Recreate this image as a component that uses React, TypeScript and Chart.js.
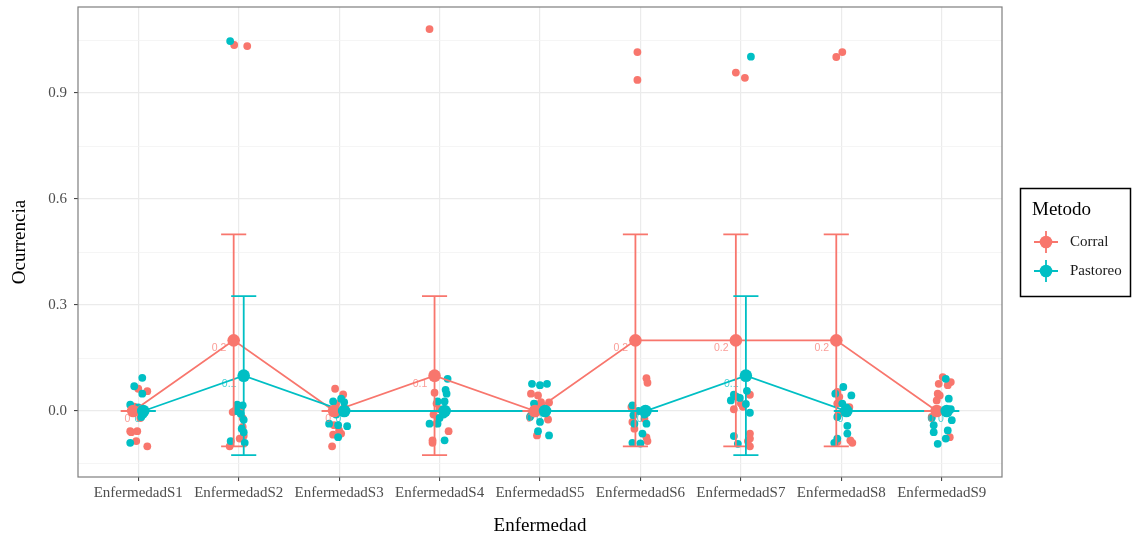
import React, { useEffect, useRef } from "react";
import { Chart, registerables } from "chart.js";

Chart.register(...registerables);

// ---------------- data ----------------
const categories = [
  "EnfermedadS1", "EnfermedadS2", "EnfermedadS3", "EnfermedadS4", "EnfermedadS5",
  "EnfermedadS6", "EnfermedadS7", "EnfermedadS8", "EnfermedadS9",
];
const groups = ["Corral", "Pastoreo"];
const groupColors = ["#F8766D", "#00BFC4"];
const groupLabelColors = ["rgba(248,118,109,0.72)", "rgba(0,191,196,0.72)"];

const corralMean = [0, 0.2, 0, 0.1, 0, 0.2, 0.2, 0.2, 0];
const corralLow = [0, -0.1, 0, -0.125, 0, -0.1, -0.1, -0.1, 0];
const corralHigh = [0, 0.5, 0, 0.325, 0, 0.5, 0.5, 0.5, 0];

const pastoreoMean = [0, 0.1, 0, 0, 0, 0, 0.1, 0, 0];
const pastoreoLow = [0, -0.125, 0, 0, 0, 0, -0.125, 0, 0];
const pastoreoHigh = [0, 0.325, 0, 0, 0, 0, 0.325, 0, 0];

// jittered observations: [category (1-based), horizontal jitter, value]
const corralPoints: [number, number, number][] = [
  [1, 0.0, 0.063], [1, 0.09, 0.056], [1, -0.08, -0.057], [1, -0.01, -0.057], [1, -0.02, -0.085],
  [1, 0.09, -0.1], [1, -0.06, -0.003], [1, -0.04, 0.012], [1, -0.07, -0.06], [1, 0.02, -0.02],
  [2, -0.06, -0.003], [2, 0.02, 0.007], [2, 0.04, -0.045], [2, 0.01, -0.078], [2, -0.09, -0.1],
  [2, 0.04, -0.02], [2, -0.04, 0.0], [2, 0.05, -0.07], [2, -0.045, 1.036], [2, 0.085, 1.033],
  [3, -0.04, 0.063], [3, 0.04, 0.047], [3, -0.06, -0.005], [3, -0.05, -0.04], [3, -0.06, -0.067],
  [3, 0.02, -0.064], [3, -0.07, -0.1], [3, 0.0, -0.055], [3, -0.03, 0.02], [3, 0.05, 0.01],
  [4, -0.05, 0.052], [4, -0.03, 0.021], [4, -0.06, -0.01], [4, 0.09, -0.057], [4, -0.07, -0.083],
  [4, -0.07, -0.09], [4, -0.03, -0.035], [4, 0.0, 0.005], [4, -0.02, -0.02], [4, -0.1, 1.081],
  [5, -0.09, 0.049], [5, -0.02, 0.044], [5, 0.01, 0.025], [5, 0.09, 0.024], [5, -0.09, -0.012],
  [5, 0.08, -0.024], [5, -0.03, -0.069], [5, -0.05, 0.02], [5, 0.0, 0.01], [5, -0.06, -0.004],
  [6, 0.06, 0.093], [6, 0.07, 0.08], [6, -0.09, 0.011], [6, -0.08, -0.031], [6, 0.04, -0.022],
  [6, 0.07, -0.085], [6, 0.06, -0.075], [6, -0.06, -0.05], [6, -0.03, 1.016], [6, -0.03, 0.937],
  [7, 0.09, 0.046], [7, 0.0, 0.021], [7, -0.07, 0.005], [7, 0.02, 0.012], [7, 0.09, -0.064],
  [7, 0.09, -0.078], [7, 0.09, -0.1], [7, 0.07, -0.085], [7, -0.05, 0.958], [7, 0.04, 0.943],
  [8, -0.04, 0.054], [8, -0.02, 0.04], [8, -0.04, 0.021], [8, 0.08, 0.011], [8, -0.04, -0.088],
  [8, 0.09, -0.083], [8, 0.11, -0.09], [8, -0.03, -0.01], [8, -0.05, 1.002], [8, 0.01, 1.016],
  [9, 0.01, 0.096], [9, -0.03, 0.077], [9, 0.09, 0.082], [9, 0.06, 0.073], [9, -0.04, 0.049],
  [9, -0.02, 0.044], [9, -0.06, 0.002], [9, -0.1, -0.017], [9, 0.08, -0.074], [9, -0.05, 0.03],
];

const pastoreoPoints: [number, number, number][] = [
  [1, 0.04, 0.094], [1, -0.04, 0.07], [1, 0.04, 0.049], [1, -0.08, 0.018], [1, 0.03, -0.017],
  [1, -0.08, -0.09], [1, 0.02, 0.0], [1, -0.05, -0.005], [1, 0.05, -0.01], [1, 0.0, 0.01],
  [2, -0.015, 0.018], [2, 0.04, 0.016], [2, 0.02, -0.008], [2, 0.05, -0.025], [2, -0.08, -0.085],
  [2, 0.06, -0.09], [2, 0.03, -0.05], [2, 0.05, -0.06], [2, -0.02, 0.0], [2, -0.085, 1.047],
  [3, -0.06, 0.027], [3, 0.02, 0.035], [3, 0.05, 0.025], [3, -0.01, -0.04], [3, 0.08, -0.043],
  [3, -0.01, -0.074], [3, -0.1, -0.036], [3, 0.04, 0.0], [3, -0.03, -0.01], [3, 0.06, -0.005],
  [4, 0.08, 0.091], [4, 0.07, 0.049], [4, 0.05, 0.027], [4, -0.02, 0.027], [4, -0.1, -0.036],
  [4, -0.02, -0.036], [4, 0.05, -0.083], [4, 0.04, -0.01], [4, 0.06, 0.06], [4, 0.0, -0.02],
  [5, -0.08, 0.077], [5, 0.0, 0.073], [5, 0.07, 0.077], [5, -0.06, 0.021], [5, 0.0, -0.031],
  [5, -0.02, -0.057], [5, 0.09, -0.069], [5, -0.1, -0.017], [5, 0.04, 0.0], [5, -0.04, -0.005],
  [6, -0.08, 0.016], [6, -0.07, -0.012], [6, 0.06, -0.036], [6, -0.06, -0.036], [6, 0.02, -0.064],
  [6, -0.08, -0.09], [6, 0.0, -0.092], [6, 0.04, -0.01], [6, 0.05, 0.005], [6, -0.02, 0.0],
  [7, -0.07, 0.046], [7, -0.1, 0.03], [7, -0.01, 0.037], [7, 0.09, -0.005], [7, -0.07, -0.071],
  [7, -0.03, -0.093], [7, 0.06, 0.057], [7, -0.04, 0.04], [7, 0.05, 0.02], [7, 0.1, 1.003],
  [8, 0.02, 0.068], [8, -0.06, 0.049], [8, 0.1, 0.044], [8, 0.01, 0.021], [8, -0.04, -0.017],
  [8, 0.06, -0.042], [8, 0.06, -0.064], [8, -0.04, -0.078], [8, -0.07, -0.09], [8, 0.05, 0.01],
  [9, 0.07, 0.035], [9, 0.04, 0.091], [9, 0.1, -0.026], [9, -0.08, -0.04], [9, -0.08, -0.06],
  [9, 0.06, -0.055], [9, 0.04, -0.078], [9, -0.04, -0.093], [9, 0.09, 0.005], [9, -0.1, -0.02],
];

const yMajorTicks = [0, 0.3, 0.6, 0.9];
const yMinorTicks = [-0.15, 0.15, 0.45, 0.75, 1.05];
const yMin = -0.1868;
const yMax = 1.1435;

const xTitle = "Enfermedad";
const yTitle = "Ocurrencia";
const legendTitle = "Metodo";

// ---------------- helpers ----------------
const DODGE = [-0.05, 0.05];
const CAP = 0.125;
const SERIF = '"Liberation Serif", "Times New Roman", serif';

const toXY = (pts: [number, number, number][]) => pts.map(([c, j, v]) => ({ x: c + j, y: v }));
const meanXY = (m: number[], d: number) => m.map((v, i) => ({ x: i + 1 + d, y: v }));
const errXY = (low: number[], high: number[], d: number) => {
  const out: { x: number; y: number | null }[] = [];
  low.forEach((lo, i) => {
    const x = i + 1 + d;
    const hi = high[i];
    out.push({ x, y: lo }, { x, y: hi }, { x, y: null });
    out.push({ x: x - CAP, y: hi }, { x: x + CAP, y: hi }, { x: x + CAP, y: null });
    out.push({ x: x - CAP, y: lo }, { x: x + CAP, y: lo }, { x: x + CAP, y: null });
  });
  return out;
};
const fmtLabel = (v: number) => (v === 0 ? "0" : v.toFixed(1));
const isMajor = (v: number) => yMajorTicks.some((t) => Math.abs(t - v) < 1e-9);

const means = [corralMean, pastoreoMean];

const overlayPlugin = {
  id: "overlay",
  afterDatasetDraw(chart: any, args: any) {
    if (args.index !== 1) return;
    const { ctx, scales } = chart;
    ctx.save();
    ctx.font = '10.5px "Liberation Sans", Arial, sans-serif';
    ctx.textAlign = "center";
    ctx.textBaseline = "middle";
    means.forEach((arr, g) => {
      ctx.fillStyle = groupLabelColors[g];
      arr.forEach((v, i) => {
        const txt = fmtLabel(v);
        const w = ctx.measureText(txt).width;
        const px = scales.x.getPixelForValue(i + 1 + DODGE[g]);
        const py = scales.y.getPixelForValue(v);
        ctx.fillText(txt, px - w, py + 8);
      });
    });
    ctx.restore();
  },
  afterDraw(chart: any) {
    const { ctx, chartArea } = chart;
    ctx.save();
    // panel border
    ctx.strokeStyle = "#7F7F7F";
    ctx.lineWidth = 1.2;
    ctx.strokeRect(chartArea.left, chartArea.top, chartArea.right - chartArea.left, chartArea.bottom - chartArea.top);
    // legend
    ctx.strokeStyle = "#000";
    ctx.lineWidth = 1.5;
    ctx.strokeRect(1020.5, 188.5, 110, 108);
    ctx.fillStyle = "#000";
    ctx.textBaseline = "middle";
    ctx.textAlign = "left";
    ctx.font = `19px ${SERIF}`;
    ctx.fillText(legendTitle, 1032, 210);
    groups.forEach((name, g) => {
      const cy = 242 + g * 29;
      const cx = 1046;
      ctx.strokeStyle = groupColors[g];
      ctx.lineWidth = 1.8;
      ctx.beginPath();
      ctx.moveTo(cx - 12, cy);
      ctx.lineTo(cx + 12, cy);
      ctx.moveTo(cx, cy - 11);
      ctx.lineTo(cx, cy + 11);
      ctx.stroke();
      ctx.fillStyle = groupColors[g];
      ctx.beginPath();
      ctx.arc(cx, cy, 6.3, 0, Math.PI * 2);
      ctx.fill();
      ctx.fillStyle = "#1a1a1a";
      ctx.font = `15px ${SERIF}`;
      ctx.fillText(name, 1070, cy);
    });
    ctx.restore();
  },
};

export default function App() {
  const ref = useRef<HTMLCanvasElement | null>(null);
  useEffect(() => {
    document.body.style.margin = "0";
    const canvas = ref.current!;
    const lineDs = (data: any, color: string, order: number, width = 1.8) => ({
      type: "line",
      data,
      borderColor: color,
      backgroundColor: color,
      borderWidth: width,
      pointRadius: 0,
      showLine: true,
      spanGaps: false,
      order,
      tension: 0,
    });
    const chart = new Chart(canvas, {
      type: "scatter",
      data: {
        datasets: [
          { data: toXY(corralPoints), backgroundColor: groupColors[0], borderWidth: 0, pointRadius: 3.9, order: 10 },
          { data: toXY(pastoreoPoints), backgroundColor: groupColors[1], borderWidth: 0, pointRadius: 3.9, order: 9 },
          lineDs(meanXY(corralMean, DODGE[0]), groupColors[0], 8),
          lineDs(meanXY(pastoreoMean, DODGE[1]), groupColors[1], 7),
          lineDs(errXY(corralLow, corralHigh, DODGE[0]), groupColors[0], 6),
          lineDs(errXY(pastoreoLow, pastoreoHigh, DODGE[1]), groupColors[1], 5),
          { data: meanXY(corralMean, DODGE[0]), backgroundColor: groupColors[0], borderWidth: 0, pointRadius: 6.3, order: 4 },
          { data: meanXY(pastoreoMean, DODGE[1]), backgroundColor: groupColors[1], borderWidth: 0, pointRadius: 6.3, order: 3 },
        ] as any,
      },
      options: {
        animation: false,
        responsive: false,
        devicePixelRatio: 1,
        events: [],
        layout: { padding: { top: 7, right: 132, left: 0, bottom: 0 } },
        plugins: { legend: { display: false }, tooltip: { enabled: false } },
        scales: {
          x: {
            type: "linear",
            min: 0.4,
            max: 9.6,
            afterBuildTicks: (axis: any) => {
              axis.ticks = categories.map((_, i) => ({ value: i + 1 }));
            },
            afterFit: (s: any) => {
              s.height = 60;
              s.paddingLeft = 0;
              s.paddingRight = 0;
            },
            ticks: {
              autoSkip: false,
              maxRotation: 0,
              padding: 3,
              color: "#4D4D4D",
              font: { family: SERIF, size: 15 },
              callback: (v: any) => categories[Math.round(Number(v)) - 1] ?? "",
            },
            grid: { color: "#EBEBEB", lineWidth: 1.2, tickLength: 4, tickColor: "#333", tickWidth: 1 },
            border: { display: false },
            title: {
              display: true,
              text: xTitle,
              color: "#000",
              font: { family: SERIF, size: 19 },
              padding: { top: 0, bottom: 0 },
            },
          },
          y: {
            type: "linear",
            min: yMin,
            max: yMax,
            afterBuildTicks: (axis: any) => {
              axis.ticks = [...yMajorTicks, ...yMinorTicks].sort((a, b) => a - b).map((v) => ({ value: v }));
            },
            afterFit: (s: any) => {
              s.width = 78;
              s.paddingTop = 0;
              s.paddingBottom = 0;
            },
            ticks: {
              autoSkip: false,
              padding: 7,
              color: "#4D4D4D",
              font: { family: SERIF, size: 15 },
              callback: (v: any) => (isMajor(Number(v)) ? Number(v).toFixed(1) : ""),
            },
            grid: {
              color: (c: any) => (isMajor(c.tick.value) ? "#EBEBEB" : "#F3F3F3"),
              lineWidth: (c: any) => (isMajor(c.tick.value) ? 1.2 : 0.8),
              tickLength: 4,
              tickColor: (c: any) => (isMajor(c.tick.value) ? "#333" : "rgba(0,0,0,0)"),
              tickWidth: 1,
            },
            border: { display: false },
            title: {
              display: true,
              text: yTitle,
              color: "#000",
              font: { family: SERIF, size: 19 },
              padding: { top: 9, bottom: 0 },
            },
          },
        },
      } as any,
      plugins: [overlayPlugin],
    });
    return () => chart.destroy();
  }, []);
  return (
    <div style={{ width: 1134, height: 537 }}>
      <canvas ref={ref} width={1134} height={537} style={{ display: "block", width: 1134, height: 537 }} />
    </div>
  );
}
